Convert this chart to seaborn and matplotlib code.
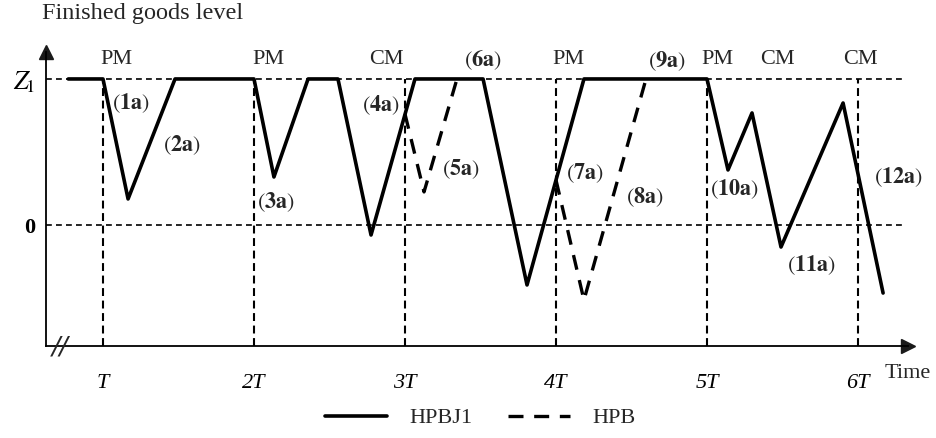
import matplotlib
matplotlib.use('Agg')
import matplotlib.pyplot as plt
import seaborn as sns
import pandas as pd

# periods on the time axis (in units of T)
periods = [1, 2, 3, 4, 5, 6]
period_labels = ['T', '2T', '3T', '4T', '5T', '6T']

# HPBJ1 finished goods level (solid)
hpbj1_t = [0.77, 1.0, 1.166, 1.477, 2.0, 2.132, 2.358, 2.556, 2.775, 3.066,
           3.517, 3.808, 4.185, 5.0, 5.139, 5.298, 5.49, 5.901, 6.166]
hpbj1_z = [1, 1, 0.181, 1, 1, 0.331, 1, 1, -0.065, 1,
           1, -0.406, 1, 1, 0.379, 0.768, -0.147, 0.836, -0.461]

# HPB finished goods level (dashed), two branches
hpb_seg = [1, 1, 1, 2, 2, 2]
hpb_t = [3.0, 3.126, 3.344, 4.0, 4.185, 4.596]
hpb_z = [0.76, 0.229, 1.0, 0.31, -0.509, 1.0]

# maintenance actions at the top
maint_labels = ['PM', 'PM', 'CM', 'PM', 'PM', 'CM', 'CM']
maint_t = [1.089, 2.096, 2.877, 4.083, 5.07, 5.467, 6.013]

# numbered cases
case_labels = ['1a', '2a', '3a', '4a', '5a', '6a', '7a', '8a', '9a', '10a', '11a', '12a']
case_t = [1.182, 1.526, 2.146, 2.841, 3.371, 3.513, 4.189, 4.589, 4.738, 5.185, 5.689, 6.265]
case_z = [0.836, 0.549, 0.160, 0.823, 0.386, 1.130, 0.358, 0.195, 1.123, 0.249, -0.270, 0.331]

sns.set_theme(style='white')
plt.rcParams['font.family'] = ['Liberation Serif', 'DejaVu Serif']
plt.rcParams['mathtext.fontset'] = 'stix'

W, H = 936, 438
fig = plt.figure(figsize=(W / 100, H / 100), dpi=100)
ax = fig.add_axes([46 / W, (H - 346) / H, (908 - 46) / W, (346 - 52) / H])
ax.set_xlim(0.6225, 6.331)
ax.set_ylim(-0.8225, 1.184)
ybot = ax.get_ylim()[0]

# guide lines
ax.hlines([0, 1], ax.get_xlim()[0], 6.298, color='black', lw=1.2,
          linestyle=(0, (3.5, 2.5)))
ax.vlines(periods, ybot, 1, color='black', lw=1.5, linestyle=(0, (3.8, 2.2)))

solid = pd.DataFrame({'t': hpbj1_t, 'z': hpbj1_z})
dashed = pd.DataFrame({'t': hpb_t, 'z': hpb_z, 'seg': hpb_seg})
sns.lineplot(data=solid, x='t', y='z', sort=False, estimator=None,
             color='black', lw=2.6, ax=ax)
line_solid = ax.lines[-1]
for seg, d in dashed.groupby('seg'):
    sns.lineplot(data=d, x='t', y='z', sort=False, estimator=None,
                 color='black', lw=2.4, ax=ax)
    ax.lines[-1].set_linestyle((0, (4.5, 3.2)))
line_dash = ax.lines[-1]

for lab, t in zip(maint_labels, maint_t):
    ax.text(t, 1.135, lab, ha='center', va='center', fontsize=16)
for lab, t, z in zip(case_labels, case_t, case_z):
    ax.text(t, z, r'$(\mathbf{%s})$' % lab, ha='center', va='center', fontsize=16)

# axes
sns.despine(ax=ax)
for s in ['left', 'bottom']:
    ax.spines[s].set_color('black')
    ax.spines[s].set_linewidth(1.3)
ax.plot(1, 0, '>k', ms=10, transform=ax.transAxes, clip_on=False)
ax.plot(0, 1, '^k', ms=10, transform=ax.transAxes, clip_on=False)

ax.set_xticks(periods, labels=period_labels)
for lab in ax.get_xticklabels():
    lab.set_fontstyle('italic')
    lab.set_fontsize(16)
ax.set_yticks([0, 1], labels=['0', r'$\mathit{Z}_{\!\mathit{1}}$'])
ax.get_yticklabels()[0].set_fontweight('bold')
ax.get_yticklabels()[0].set_fontsize(16)
ax.get_yticklabels()[1].set_fontsize(19)
ax.tick_params(axis='x', length=0, pad=20, colors='black')
ax.tick_params(axis='y', length=0, pad=8, colors='black')
ax.set_xlabel('')
ax.set_ylabel('')
ax.grid(False)

fig.text(60 / W, 1 - 346 / H, '//', family='DejaVu Sans', fontsize=18,
         fontstyle='italic', ha='center', va='center')
fig.text(143 / W, 1 - 14 / H, 'Finished goods level', fontsize=17.5,
         ha='center', va='center')
fig.text(908 / W, 1 - 373 / H, 'Time', fontsize=16, ha='center', va='center')

fig.legend([line_solid, line_dash], ['HPBJ1', 'HPB'], loc='center',
           bbox_to_anchor=(480 / W, 1 - 418 / H), ncol=2, frameon=False,
           handlelength=2.8, handletextpad=1.0, columnspacing=1.6, fontsize=16)

fig.savefig('out.png', dpi=100)
